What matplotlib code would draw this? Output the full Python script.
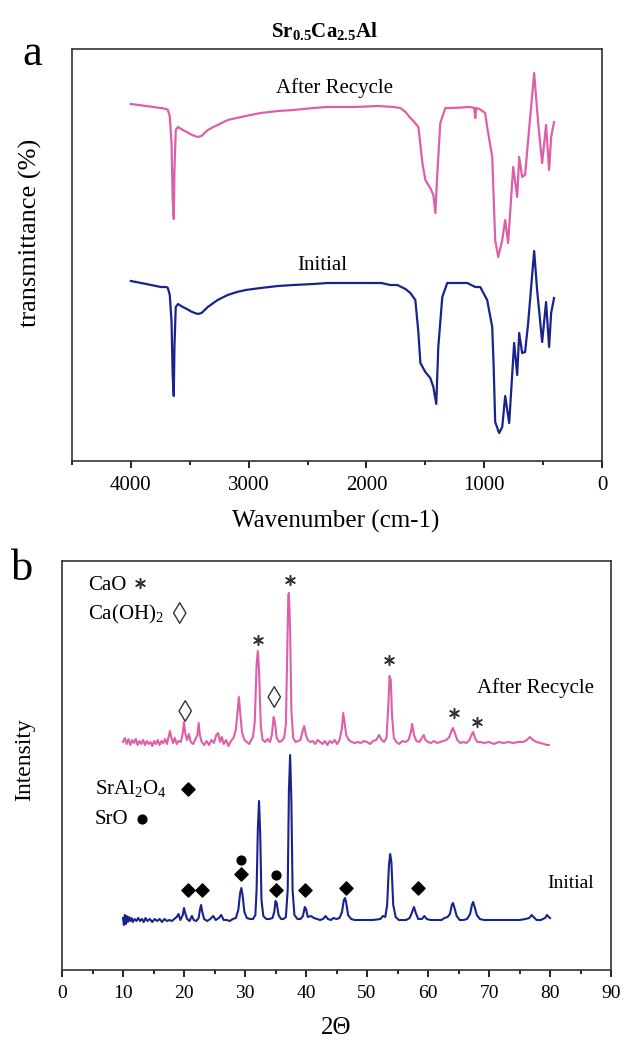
import matplotlib
matplotlib.use("Agg")
import matplotlib.pyplot as plt
from matplotlib.ticker import MultipleLocator

plt.rcParams['font.family'] = ['Liberation Serif', 'DejaVu Serif']
plt.rcParams['mathtext.fontset'] = 'custom'
plt.rcParams['mathtext.rm'] = 'Liberation Serif'
plt.rcParams['mathtext.bf'] = 'Liberation Serif:bold'

# ---------------- FTIR data (a) ----------------
ftir_wn_recycle = [4000, 3870, 3746, 3700, 3686, 3670, 3655, 3645, 3636, 3630, 3619, 3600,
                   3560, 3525, 3480, 3432, 3400, 3347, 3300, 3263, 3178, 3100, 3025, 2898,
                   2750, 2619, 2450, 2330, 2100, 1900, 1771, 1712, 1669, 1627, 1601, 1559,
                   1525, 1500, 1458, 1432, 1415, 1398, 1373, 1330, 1271, 1119, 1085, 1076,
                   1068, 1040, 992, 975, 932, 907, 881, 847, 822, 797, 754, 720, 703, 678,
                   653, 627, 576, 542, 508, 475, 449, 432, 407]
ftir_t_recycle = [357, 355, 353, 352, 351, 345, 318, 262, 242, 290, 331, 334,
                  331, 329, 326, 324, 325, 331, 334, 336, 341, 343, 345, 348,
                  350, 351, 353, 354, 354, 355, 354, 353, 349, 343, 340, 334,
                  298, 281, 273, 266, 248, 288, 338, 353, 353, 354, 353, 343,
                  353, 352, 348, 334, 304, 221, 204, 221, 241, 218, 294, 264, 304, 284,
                  286, 321, 388, 338, 298, 336, 291, 324, 339]

ftir_wn_initial = [4000, 3870, 3746, 3700, 3686, 3670, 3655, 3645, 3636, 3630, 3619, 3600,
                   3560, 3525, 3480, 3432, 3400, 3347, 3300, 3263, 3178, 3100, 3025, 2898,
                   2750, 2619, 2450, 2330, 2100, 1873, 1797, 1737, 1669, 1627, 1585, 1560,
                   1542, 1500, 1458, 1432, 1407, 1390, 1356, 1314, 1144, 1076, 1034, 975,
                   932, 920, 907, 873, 847, 822, 788, 746, 720, 703, 678, 653, 627, 576,
                   551, 508, 475, 449, 432, 407]
ftir_t_initial = [180, 177, 174, 174, 173, 166, 140, 85, 65, 115, 154, 157,
                  154, 152, 149, 147, 148, 154, 158, 161, 166, 169, 171, 173,
                  175, 176, 177, 178, 178, 178, 176, 176, 172, 168, 161, 130,
                  98, 89, 83, 74, 57, 114, 164, 178, 178, 174, 174, 161,
                  134, 95, 39, 28, 34, 65, 38, 118, 86, 128, 108, 109, 138, 210,
                  171, 119, 159, 114, 148, 163]

# ---------------- XRD data (b) ----------------
xrd_2t_recycle = [10.0, 10.3, 10.6, 10.9, 11.2, 11.5, 11.8, 12.1, 12.4, 12.7, 13.0, 13.3, 13.6,
                  13.9, 14.2, 14.5, 14.8, 15.1, 15.4, 15.7, 16.0, 16.3, 16.6, 16.9, 17.2, 17.5,
                  17.7, 17.9, 18.2, 18.5, 18.8, 19.1, 19.5, 19.8, 20.0, 20.2, 20.5, 20.8, 21.1,
                  21.5, 21.8, 22.2, 22.4, 22.6, 22.9, 23.3, 23.7, 24.1, 24.5, 24.9, 25.3, 25.6,
                  25.9, 26.2, 26.5, 26.9, 27.3, 27.7, 28.1, 28.5, 28.8, 29.0, 29.2, 29.5, 29.9,
                  30.3, 30.7, 31.0, 31.3, 31.6, 31.9, 32.1, 32.3, 32.6, 32.9, 33.3, 33.7, 34.1,
                  34.4, 34.7, 34.9, 35.2, 35.6, 36.0, 36.4, 36.7, 36.9, 37.1, 37.2, 37.4, 37.6,
                  37.9, 38.3, 38.7, 39.1, 39.4, 39.7, 40.0, 40.3, 40.7, 41.1, 41.5, 41.9, 42.3,
                  42.7, 43.1, 43.5, 43.9, 44.3, 44.7, 45.1, 45.5, 45.9, 46.1, 46.3, 46.6, 47.0,
                  47.5, 48.0, 48.5, 49.0, 49.5, 50.0, 50.5, 51.0, 51.5, 52.0, 52.4, 52.8, 53.2,
                  53.5, 53.7, 53.9, 54.1, 54.4, 54.8, 55.3, 55.8, 56.3, 56.8, 57.2, 57.4, 57.7,
                  58.1, 58.6, 59.0, 59.3, 59.6, 60.0, 60.5, 61.0, 61.5, 62.0, 62.5, 63.0, 63.5,
                  63.9, 64.1, 64.4, 64.8, 65.3, 65.8, 66.3, 66.8, 67.2, 67.4, 67.7, 68.1, 68.6,
                  69.2, 70.0, 70.8, 71.6, 72.4, 73.2, 74.0, 74.8, 75.6, 76.2, 76.7, 77.2, 77.8,
                  78.4, 79.0, 79.5, 79.8]
xrd_i_recycle = [228, 232, 226, 231, 225, 230, 227, 231, 225, 229, 226, 230, 225,
                 229, 226, 228, 224, 229, 226, 230, 225, 229, 227, 231, 226, 234,
                 239, 233, 227, 232, 226, 229, 228, 237, 248, 237, 230, 236, 228,
                 226, 230, 235, 247, 235, 228, 225, 229, 225, 230, 227, 235, 237,
                 228, 233, 226, 230, 224, 229, 232, 240, 260, 273, 258, 238, 230,
                 228, 226, 230, 233, 248, 305, 319, 300, 243, 230, 228, 231, 228,
                 235, 253, 248, 232, 228, 229, 232, 245, 310, 375, 377, 340, 260,
                 232, 228, 229, 230, 238, 244, 235, 230, 228, 229, 226, 230, 228,
                 226, 229, 225, 229, 227, 230, 226, 230, 242, 257, 248, 235, 230,
                 228, 227, 228, 227, 229, 228, 226, 229, 230, 235, 230, 228, 232,
                 265, 294, 290, 255, 232, 228, 226, 229, 228, 230, 238, 246, 235,
                 229, 228, 232, 235, 230, 228, 227, 229, 227, 228, 229, 230, 233,
                 240, 242, 237, 230, 227, 228, 227, 230, 236, 238, 232, 228, 228,
                 227, 228, 226, 228, 227, 228, 227, 228, 228, 230, 233, 230, 228,
                 227, 226, 225, 225]

xrd_2t_initial = [10.0, 10.15, 10.3, 10.45, 10.6, 10.8, 11.0, 11.2, 11.4, 11.6, 11.9, 12.2,
                  12.5, 12.8, 13.1, 13.4, 13.7, 14.0, 14.4, 14.8, 15.2, 15.6, 16.0, 16.4,
                  16.8, 17.2, 17.6, 18.0, 18.4, 18.8, 19.1, 19.4, 19.8, 20.0, 20.2, 20.5,
                  20.9, 21.3, 21.6, 22.0, 22.4, 22.6, 22.8, 23.0, 23.3, 23.8, 24.3, 24.8,
                  25.2, 25.7, 26.1, 26.5, 27.0, 27.5, 28.0, 28.5, 28.9, 29.2, 29.4, 29.6,
                  29.9, 30.3, 30.8, 31.3, 31.7, 31.9, 32.1, 32.3, 32.5, 32.7, 33.0, 33.5,
                  34.0, 34.5, 34.8, 35.0, 35.2, 35.5, 35.9, 36.3, 36.7, 37.0, 37.2, 37.4,
                  37.6, 37.8, 38.1, 38.6, 39.1, 39.5, 39.8, 40.0, 40.3, 40.8, 41.3, 41.8,
                  42.3, 42.8, 43.2, 43.6, 44.1, 44.5, 45.0, 45.5, 45.9, 46.2, 46.4, 46.6,
                  46.9, 47.4, 48.0, 49.0, 50.0, 51.0, 52.2, 52.6, 53.0, 53.3, 53.6, 53.8,
                  54.0, 54.3, 54.7, 55.2, 55.8, 56.4, 57.0, 57.4, 57.7, 58.0, 58.4, 59.0,
                  59.4, 59.8, 60.4, 61.3, 62.2, 62.7, 63.2, 63.6, 63.9, 64.1, 64.3, 64.7,
                  65.2, 65.8, 66.4, 66.9, 67.2, 67.4, 67.6, 68.0, 68.5, 69.2, 70.5, 72.0,
                  73.5, 75.0, 76.0, 76.6, 77.0, 77.3, 77.8, 78.5, 79.2, 79.5, 79.8, 80.0]
xrd_i_initial = [52, 45, 55, 46, 54, 48, 53, 49, 52, 48, 51, 49,
                 52, 49, 51, 48, 52, 49, 51, 48, 51, 49, 51, 48,
                 51, 49, 50, 49, 51, 53, 56, 50, 55, 62, 57, 51,
                 49, 54, 50, 49, 52, 60, 65, 58, 51, 49, 51, 54,
                 50, 52, 55, 50, 50, 49, 51, 52, 60, 77, 82, 75,
                 58, 52, 51, 51, 55, 80, 140, 169, 135, 70, 54, 51,
                 51, 52, 58, 69, 67, 55, 51, 51, 53, 80, 180, 215,
                 170, 80, 55, 51, 51, 54, 63, 61, 53, 54, 52, 51,
                 50, 51, 54, 51, 50, 52, 51, 52, 58, 70, 72, 67,
                 55, 51, 50, 50, 50, 50, 51, 54, 53, 65, 105, 116,
                 108, 65, 53, 50, 50, 50, 52, 58, 63, 57, 51, 51,
                 54, 51, 50, 50, 50, 52, 53, 56, 65, 67, 63, 54,
                 50, 50, 51, 56, 65, 68, 64, 55, 51, 50, 50, 50,
                 50, 50, 51, 52, 55, 53, 50, 50, 52, 55, 53, 52]

# phase markers
cao_2t = [32.1, 37.4, 53.6, 64.3, 68.0]
cao_i = [330, 390, 310, 257, 248]
caoh2_2t = [20.2, 34.8]
caoh2_i = [259, 273]
sral_2t = [20.6, 22.9, 29.4, 35.0, 39.8, 46.5, 58.3]
sral_i = [80, 80, 96, 80, 80, 82, 82]
sro_2t = [29.4, 35.0]
sro_i = [110, 95]

pink = '#DD5FAA'
navy = '#18238C'

fig = plt.figure(figsize=(6.25, 10.41), dpi=100)
W, H = 625, 1041
ax1 = fig.add_axes([72 / W, 1 - 461 / H, 530 / W, 412 / H])
ax2 = fig.add_axes([62 / W, 1 - 970 / H, 549 / W, 409 / H])

# ---- panel a ----
ax1.plot(ftir_wn_recycle, ftir_t_recycle, color=pink, lw=1.6)
ax1.plot(ftir_wn_initial, ftir_t_initial, color=navy, lw=1.6)
ax1.set_xlim(4500, 0)
ax1.set_ylim(0, 412)
ax1.xaxis.set_major_locator(MultipleLocator(1000))
ax1.xaxis.set_minor_locator(MultipleLocator(500))
ax1.set_yticks([])
ax1.tick_params(axis='x', which='major', direction='out', length=5, width=1.2, labelsize=15, pad=6)
ax1.tick_params(axis='x', which='minor', direction='out', length=3, width=1.2)
ax1.text(2270, 373, 'After Recycle', ha='center', va='center', fontsize=15)
ax1.text(2373, 196, 'Initial', ha='center', va='center', fontsize=15)

# ---- panel b ----
ax2.plot(xrd_2t_recycle, xrd_i_recycle, color=pink, lw=1.5)
ax2.plot(xrd_2t_initial, xrd_i_initial, color=navy, lw=1.5)
ax2.set_xlim(0, 90)
ax2.set_ylim(0, 409)
ax2.xaxis.set_major_locator(MultipleLocator(10))
ax2.xaxis.set_minor_locator(MultipleLocator(5))
ax2.set_yticks([])
ax2.tick_params(axis='x', which='major', direction='out', length=5, width=1.2, labelsize=14, pad=6)
ax2.tick_params(axis='x', which='minor', direction='out', length=3, width=1.2)

ax2.scatter(cao_2t, cao_i, marker=(6, 2, 0), s=50, color='#333333', linewidths=1.1)
ax2.scatter(caoh2_2t, caoh2_i, marker='d', s=110, facecolors='none', edgecolors='#333333', linewidths=1.0)
ax2.scatter(sral_2t, sral_i, marker='D', s=45, color='black')
ax2.scatter(sro_2t, sro_i, marker='o', s=40, color='black')

ax2.text(4.3, 385, 'CaO', ha='left', va='center', fontsize=15)
ax2.scatter([12.8], [387], marker=(6, 2, 0), s=50, color='#333333', linewidths=1.1)
ax2.text(4.3, 356, r'Ca(OH)$_\mathregular{2}$', ha='left', va='center', fontsize=15)
ax2.scatter([19.3], [357], marker='d', s=110, facecolors='none', edgecolors='#333333', linewidths=1.0)
ax2.text(5.4, 181, r'SrAl$_\mathregular{2}$O$_\mathregular{4}$', ha='left', va='center', fontsize=15)
ax2.scatter([20.7], [181], marker='D', s=45, color='black')
ax2.text(5.4, 151, 'SrO', ha='left', va='center', fontsize=15)
ax2.scatter([13.1], [151], marker='o', s=40, color='black')
ax2.text(77.7, 282, 'After Recycle', ha='center', va='center', fontsize=15)
ax2.text(83.4, 86, 'Initial', ha='center', va='center', fontsize=14)

for ax in (ax1, ax2):
    for sp in ax.spines.values():
        sp.set_linewidth(1.2)
        sp.set_color('#333333')

# labels
fig.text(325 / W, 1 - 32 / H, r'Sr$_{\mathbf{0.5}}$Ca$_{\mathbf{2.5}}$Al', ha='center', va='center',
         fontsize=15, fontweight='bold')
fig.text(32 / W, 1 - 65 / H, 'a', ha='center', va='baseline', fontsize=32)
fig.text(22 / W, 1 - 580 / H, 'b', ha='center', va='baseline', fontsize=32)
fig.text(30 / W, 1 - 233 / H, 'transmittance (%)', rotation=90, ha='center', va='center', fontsize=19)
fig.text(336 / W, 1 - 521 / H, 'Wavenumber (cm-1)', ha='center', va='center', fontsize=18)
fig.text(25 / W, 1 - 760 / H, 'Intensity', rotation=90, ha='center', va='center', fontsize=17)
fig.text(336 / W, 1 - 1028 / H, '2Θ', ha='center', va='center', fontsize=18)

fig.savefig('out.png', dpi=100)
